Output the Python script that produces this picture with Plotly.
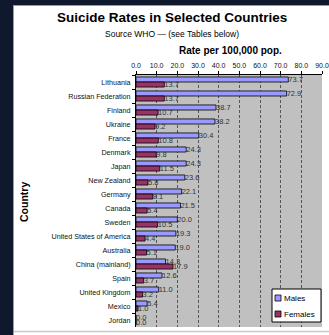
import plotly.graph_objects as go

countries = ["Lithuania", "Russian Federation", "Finland", "Ukraine", "France", "Denmark",
             "Japan", "New Zealand", "Germany", "Canada", "Sweden", "United States of America",
             "Australia", "China (mainland)", "Spain", "United Kingdom", "Mexico", "Jordan"]
males = [73.7, 72.9, 38.7, 38.2, 30.4, 24.3, 24.3, 23.6, 22.1, 21.5, 20.0, 19.3, 19.0, 14.3, 12.6, 11.0, 5.4, 0.0]
females = [13.7, 13.7, 10.7, 9.2, 10.8, 9.8, 11.5, 5.8, 8.1, 5.4, 10.5, 4.4, 5.1, 17.9, 3.7, 3.2, 1.0, 0.0]
x_ticks = [0, 10, 20, 30, 40, 50, 60, 70, 80, 90]
series_names = ["Males", "Females"]
series_colors = ["#9999ff", "#993366"]

W, H = 329, 335
L, R, T, B = 136, 7, 75, 8
PW = W - L - R
PH = H - T - B

def px(x):
    return (x - L) / PW

def py(y):
    return (H - B - y) / PH

font = "Liberation Sans, Arial, sans-serif"

fig = go.Figure()
for name, vals, col in zip(series_names, [males, females], series_colors):
    fig.add_trace(go.Bar(
        y=countries, x=vals, name=name, orientation="h",
        marker=dict(color=col, line=dict(color="#000000", width=0.8)),
        text=[f"{v:.1f}" for v in vals], textposition="outside", cliponaxis=False,
        constraintext="none", textangle=0,
        textfont=dict(size=7.5, color="#333333", family=font),
        showlegend=False,
    ))

shapes = [
    dict(type="rect", xref="paper", yref="paper", x0=px(0), x1=px(13), y0=py(H), y1=py(0),
         fillcolor="#0f182c", line=dict(width=0), layer="above"),
    dict(type="rect", xref="paper", yref="paper", x0=px(0), x1=px(W), y0=py(5), y1=py(0),
         fillcolor="#0f182c", line=dict(width=0), layer="above"),
    dict(type="line", xref="paper", yref="paper", x0=px(13.5), x1=px(13.5), y0=py(H), y1=py(5),
         line=dict(color="#9a9a9a", width=1), layer="above"),
    dict(type="line", xref="paper", yref="paper", x0=px(13), x1=px(W), y0=py(5.5), y1=py(5.5),
         line=dict(color="#9a9a9a", width=1), layer="above"),
    dict(type="line", xref="paper", yref="paper", x0=px(14), x1=px(W), y0=py(331.5), y1=py(331.5),
         line=dict(color="#c8c8c8", width=1.5), layer="above"),
    # legend box
    dict(type="rect", xref="paper", yref="paper", x0=px(272), x1=px(321), y0=py(322), y1=py(289),
         fillcolor="#ffffff", line=dict(color="#000000", width=1), layer="above"),
]

annotations = [
    dict(text="<b>Suicide Rates in Selected Countries</b>", x=px(172), y=py(18), xref="paper", yref="paper",
         showarrow=False, font=dict(size=13.5, family=font, color="#000"), xanchor="center", yanchor="middle"),
    dict(text="Source WHO — (see Tables below)", x=px(172), y=py(34), xref="paper", yref="paper",
         showarrow=False, font=dict(size=8.5, family=font, color="#000"), xanchor="center", yanchor="middle"),
    dict(text="<b>Rate per 100,000 pop.</b>", x=px(230), y=py(51), xref="paper", yref="paper",
         showarrow=False, font=dict(size=10, family=font, color="#000"), xanchor="center", yanchor="middle"),
    dict(text="<b>Country</b>", x=px(24), y=py(202), xref="paper", yref="paper", textangle=-90,
         showarrow=False, font=dict(size=10.5, family=font, color="#000"), xanchor="center", yanchor="middle"),
]

# manual legend entries
for i, (name, col) in enumerate(zip(series_names, series_colors)):
    yc = 298 + i * 16
    shapes.append(dict(type="rect", xref="paper", yref="paper", x0=px(275), x1=px(281),
                       y0=py(yc + 3), y1=py(yc - 3), fillcolor=col,
                       line=dict(color="#000000", width=0.8), layer="above"))
    annotations.append(dict(text=name, x=px(282), y=py(yc), xref="paper", yref="paper",
                            showarrow=False, font=dict(size=8, family=font, color="#000"),
                            xanchor="left", yanchor="middle"))

fig.update_layout(
    template="none",
    width=W, height=H,
    margin=dict(l=L, r=R, t=T, b=B, pad=0, autoexpand=False),
    paper_bgcolor="#ffffff", plot_bgcolor="#c0c0c0",
    barmode="group", bargap=0.28, bargroupgap=0.0,
    showlegend=False,
    shapes=shapes, annotations=annotations,
    xaxis=dict(side="top", range=[0, 90], tickvals=x_ticks, ticktext=[f"{v:.1f}" for v in x_ticks],
               showgrid=True, gridcolor="#555555", griddash="3px,2px", gridwidth=1,
               showline=True, linecolor="#000", linewidth=1, ticks="outside", ticklen=3,
               tickcolor="#000", tickfont=dict(size=7, family=font, color="#111111"), zeroline=False,
               fixedrange=True, automargin=False, mirror=False),
    yaxis=dict(autorange="reversed", type="category", showline=True, linecolor="#000", linewidth=1,
               ticks="outside", ticklen=3, tickcolor="#000", tickson="boundaries",
               ticklabelstandoff=3,
               tickfont=dict(size=7.2, family=font, color="#111111"), showgrid=False, fixedrange=True,
               automargin=False, zeroline=False),
    font=dict(family=font, color="#111111"),
)

fig.write_html("out.html")
